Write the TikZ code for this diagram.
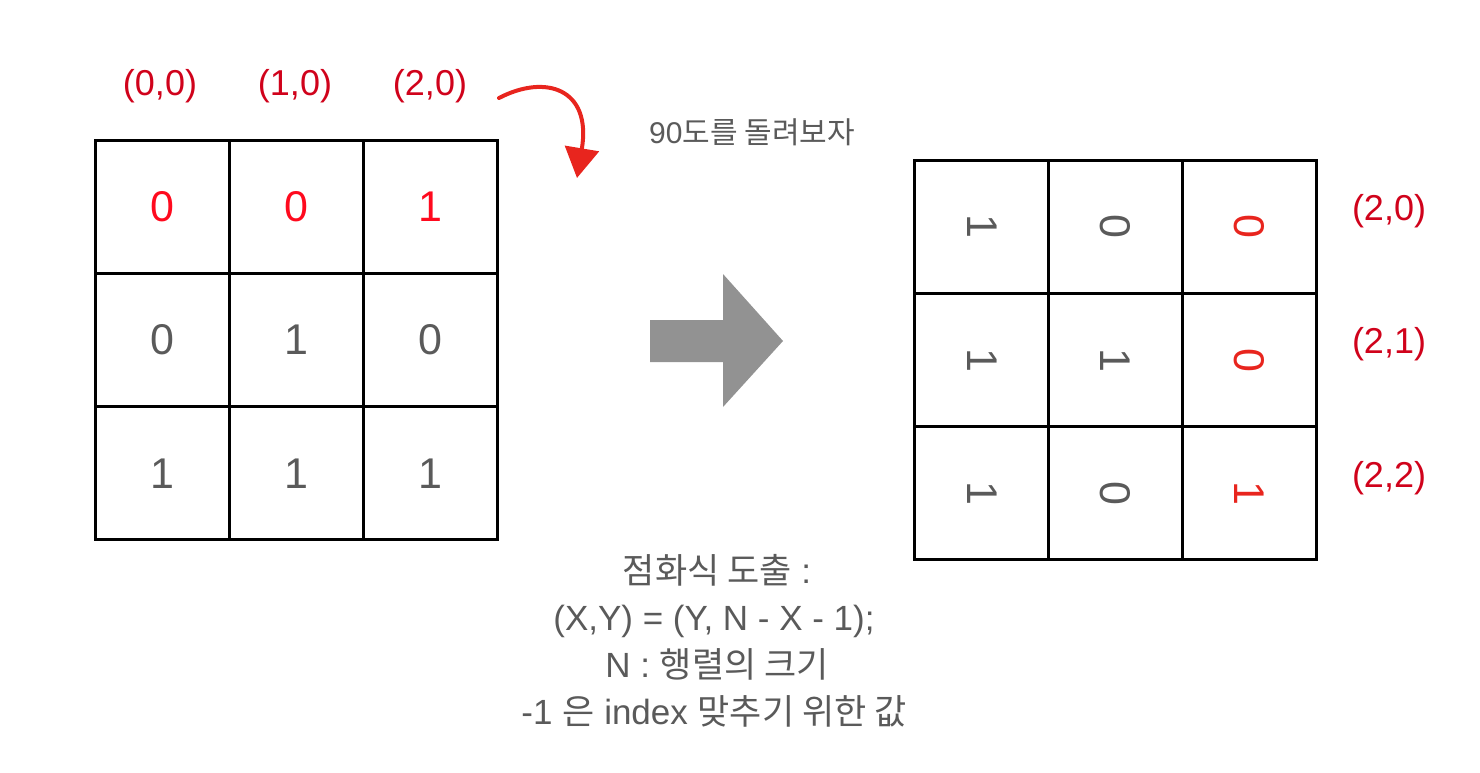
\documentclass[tikz,border=0pt]{standalone}
\usepackage{fontspec}
\usepackage{xcolor}
\usepackage{graphicx}
\usepackage{tikz}
\usetikzlibrary{arrows.meta}
\setmainfont{Liberation Sans}
\newfontfamily\kr{Noto Sans CJK KR}
\definecolor{idxred}{HTML}{D0021B}
\definecolor{valred}{HTML}{FF0A1E}
\definecolor{rotred}{HTML}{E8251E}
\definecolor{txtgray}{HTML}{5A5A5A}
\definecolor{arrgray}{HTML}{929292}
\newcommand{\rot}[1]{\rotatebox{-90}{#1}}

\begin{document}
\begin{tikzpicture}[x=1pt,y=-1pt,
  cellnode/.style={rectangle, draw=black, line width=3pt, minimum width=134pt, minimum height=133.3pt, inner sep=0pt, text=txtgray, font=\fontsize{43}{43}\selectfont},
  idxnode/.style={anchor=base, text=idxred, font=\fontsize{36}{36}\selectfont}]
            \useasboundingbox (0,0) rectangle (1480,772);

            \node[idxnode] (T1) at (160,95) {(0,0)};
            \node[idxnode] (T2) at (295,95) {(1,0)};
            \node[idxnode] (T3) at (430,95) {(2,0)};

            \node[cellnode, text=valred] (A) at (162,206.7) {0};
            \node[cellnode, text=valred] (B) at (296,206.7) {0};
            \node[cellnode, text=valred] (C) at (430,206.7) {1};
            \node[cellnode] (D) at (162,340) {0};
            \node[cellnode] (E) at (296,340) {1};
            \node[cellnode] (F) at (430,340) {0};
            \node[cellnode] (G) at (162,473.3) {1};
            \node[cellnode] (H) at (296,473.3) {1};
            \node[cellnode] (I) at (430,473.3) {1};

            \node[cellnode, minimum width=133.7pt] (A1) at (981.8,226.7) {\rot{1}};
            \node[cellnode, minimum width=133.7pt] (B1) at (1115.5,226.7) {\rot{0}};
            \node[cellnode, minimum width=133.7pt, text=rotred] (C1) at (1249.2,226.7) {\rot{0}};
            \node[cellnode, minimum width=133.7pt] (D1) at (981.8,360) {\rot{1}};
            \node[cellnode, minimum width=133.7pt] (E1) at (1115.5,360) {\rot{1}};
            \node[cellnode, minimum width=133.7pt, text=rotred] (F1) at (1249.2,360) {\rot{0}};
            \node[cellnode, minimum width=133.7pt] (G1) at (981.8,493.3) {\rot{1}};
            \node[cellnode, minimum width=133.7pt] (H1) at (1115.5,493.3) {\rot{0}};
            \node[cellnode, minimum width=133.7pt, text=rotred] (I1) at (1249.2,493.3) {\rot{1}};

            \node[idxnode] (R1) at (1389,220) {(2,0)};
            \node[idxnode] (R2) at (1389,353) {(2,1)};
            \node[idxnode] (R3) at (1389,487) {(2,2)};

            \tikzset{turnarrow/.style={-{Triangle[length=30pt,width=34pt]}, draw=rotred, line width=4pt, line cap=round}}
            \tikzset{every node/.style={anchor=base, text=txtgray}}

            \coordinate (S) at (499,98);
            \coordinate (S1) at (577,178);
            \draw[turnarrow] (S) .. controls (545,74) and (592,88) .. (S1);
            \node[font=\fontsize{30}{30}\selectfont] (M) at (752,143) {90{\kr 도를 돌려보자}};

            \fill[arrgray] (650,320) -- (723,320) -- (723,274) -- (783,341) -- (723,407) -- (723,362) -- (650,362) -- cycle;

            \node[font=\fontsize{35}{35}\selectfont] (L1) at (717,583) {{\kr 점화식 도출} :};
            \node[font=\fontsize{35}{35}\selectfont] (L2) at (714,630) {(X,Y) = (Y, N - X - 1);};
            \node[font=\fontsize{35}{35}\selectfont] (L3) at (717,677) {N : {\kr 행렬의 크기}};
            \node[font=\fontsize{35}{35}\selectfont] (L4) at (714,724) {-1 {\kr 은} index {\kr 맞추기 위한 값}};

        \end{tikzpicture}
\end{document}
